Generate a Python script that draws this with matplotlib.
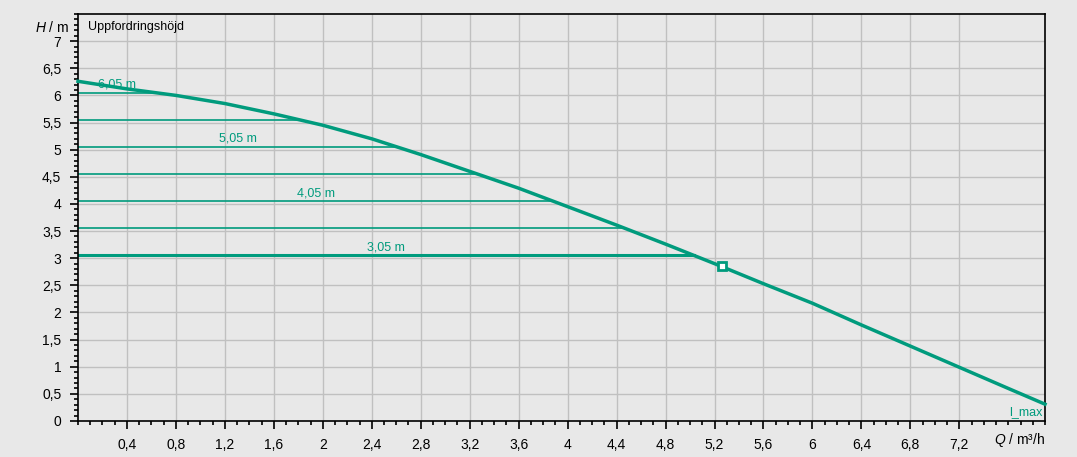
import matplotlib.pyplot as plt
import numpy as np
from matplotlib.ticker import MultipleLocator

plt.rcParams['font.family'] = ['Liberation Sans', 'DejaVu Sans']
plt.rcParams['mathtext.fontset'] = 'custom'
plt.rcParams['mathtext.it'] = 'Liberation Sans:italic'

# pump curve
q_curve = [0.0, 0.4, 0.8, 1.2, 1.6, 2.0, 2.4, 2.8, 3.2, 3.6, 4.0, 4.4, 4.8, 5.2, 5.6, 6.0, 6.4, 6.8, 7.2, 7.6, 7.9]
h_curve = [6.26, 6.12, 6.0, 5.85, 5.66, 5.45, 5.2, 4.91, 4.6, 4.29, 3.95, 3.61, 3.26, 2.9, 2.53, 2.17, 1.77, 1.38, 0.99, 0.6, 0.31]

# head levels (horizontal lines) and which ones carry a label
levels = [6.05, 5.55, 5.05, 4.55, 4.05, 3.55, 3.05]
labelled = [6.05, 5.05, 4.05, 3.05]

# operating point
q_op, h_op = 5.26, 2.85

teal = '#009b7d'
bg = '#e8e8e8'

fig = plt.figure(figsize=(10.77, 4.57), dpi=100, facecolor=bg)
ax = fig.add_axes([78 / 1077, 36 / 457, (1045 - 78) / 1077, (421 - 14) / 457])
ax.set_facecolor(bg)
ax.set_xlim(0, 7.9)
ax.set_ylim(0, 7.5)

ax.xaxis.set_major_locator(MultipleLocator(0.4))
ax.xaxis.set_minor_locator(MultipleLocator(0.1))
ax.yaxis.set_major_locator(MultipleLocator(0.5))
ax.yaxis.set_minor_locator(MultipleLocator(0.1))
ax.grid(True, which='major', color='#c0c0c0', linewidth=1.0, zorder=0)

ax.tick_params(which='major', direction='out', length=6, width=1.2, color='black',
               labelsize=10, pad=6)
ax.tick_params(which='minor', direction='out', length=3, width=1.2, color='black')

xt = np.arange(0.4, 7.3, 0.4)
ax.set_xticks(xt)
ax.set_xticklabels([('%g' % v).replace('.', ',') for v in xt], fontsize=10)
yt = np.arange(0, 7.1, 0.5)
ax.set_yticks(yt)
ax.set_yticklabels([('%g' % v).replace('.', ',') for v in yt], fontsize=10)

for s in ax.spines.values():
    s.set_linewidth(1.2)

# flip curve for interpolation (h decreasing)
q_rev = q_curve[::-1]
h_rev = h_curve[::-1]
for lv in levels:
    q_end = np.interp(lv, h_rev, q_rev)
    lw = 2.2 if lv == 3.05 else 1.2
    ax.plot([0, q_end], [lv, lv], color=teal, linewidth=lw, zorder=2)
    if lv in labelled:
        ax.text(q_end / 2, lv + 0.04, ('%.2f m' % lv).replace('.', ','), color=teal,
                fontsize=9, ha='center', va='bottom', zorder=3)

ax.plot(q_curve, h_curve, color=teal, linewidth=2.5, zorder=3, clip_on=False)
ax.plot([q_op], [h_op], marker='s', markersize=6, markerfacecolor='white',
        markeredgecolor=teal, markeredgewidth=2, zorder=4)

ax.text(0.08, 7.26, 'Uppfordringshöjd', fontsize=9, ha='left', va='center')
ax.text(7.88, 0.05, 'l_max', color=teal, fontsize=9, ha='right', va='bottom')

fig.text(69 / 1077, 1 - 27 / 457, '$H$ / m', fontsize=10, ha='right', va='center')
fig.text(1045 / 1077, 1 - 440 / 457, '$Q$ / m³/h', fontsize=10, ha='right', va='center')

fig.savefig('out.png', dpi=100, facecolor=bg)
